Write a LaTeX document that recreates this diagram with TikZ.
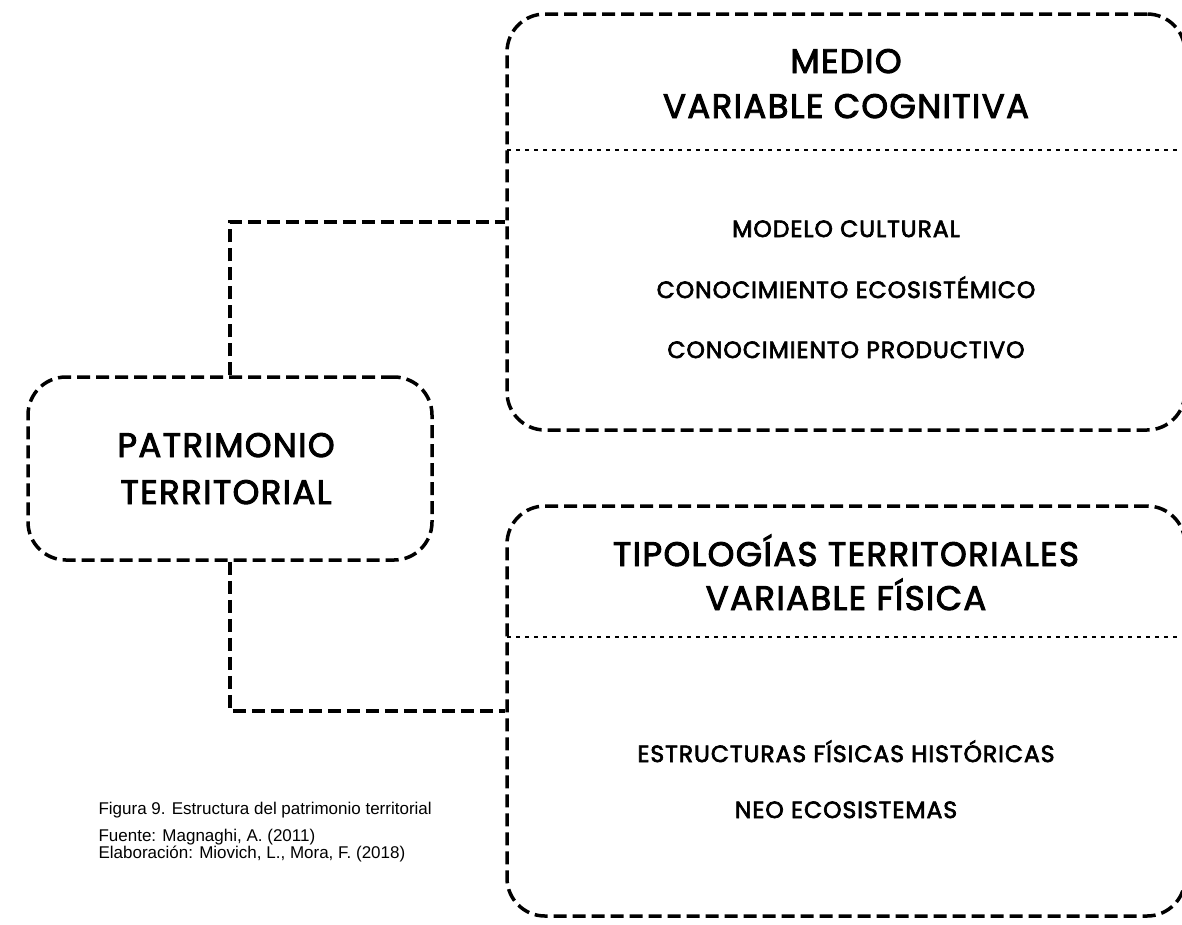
\documentclass[tikz,border=0pt]{standalone}
\usepackage{fontspec}
\setmainfont{Poppins}
\newfontfamily\pop[FakeBold=2.8, LetterSpace=4]{Poppins}
\newfontfamily\capfont{Liberation Sans}
\begin{document}
\begin{tikzpicture}[x=1pt,y=-1pt,
  dbox/.style={draw, line width=3.5pt, dash pattern=on 13pt off 6pt, rounded corners=38pt, inner sep=0pt},
  link/.style={line width=3.5pt, dash pattern=on 13pt off 6pt},
  sep/.style={line width=2pt, dash pattern=on 4pt off 5pt},
  title/.style={anchor=base, font=\pop\fontsize{34}{40}\selectfont},
  item/.style={anchor=base, font=\pop\fontsize{23.5}{28}\selectfont},
  ptext/.style={anchor=base, font=\pop\fontsize{34}{40}\selectfont},
  captext/.style={anchor=base west, font=\capfont\fontsize{17}{19}\selectfont}]
\useasboundingbox (0,0) rectangle (1182,924);
\clip (0,0) rectangle (1182,924);
\node[dbox, minimum width=404pt, minimum height=183pt] (pt) at (230,468.5) {};
\node[dbox, minimum width=678pt, minimum height=416pt] (b1) at (846,222) {};
\node[dbox, minimum width=678pt, minimum height=410pt] (b2) at (846,711) {};
\draw[link] (pt.north) |- (b1.west);
\draw[link] (pt.south) |- (b2.west);
\coordinate (s1) at (507,150);
\coordinate (s2) at (507,637);
\draw[sep] (s1) -- (s1 -| b1.east);
\draw[sep] (s2) -- (s2 -| b2.east);
\node[ptext] (p1) at (226,457) {PATRIMONIO};
\node[ptext] (p2) at (226,504) {TERRITORIAL};
\node[title] (t1) at (846,73) {MEDIO};
\node[title] (t2) at (846,118) {VARIABLE COGNITIVA};
\node[item] (i1) at (846,237) {MODELO CULTURAL};
\node[item] (i2) at (846,298) {CONOCIMIENTO ECOSISTÉMICO};
\node[item] (i3) at (846,358) {CONOCIMIENTO PRODUCTIVO};
\node[title] (t3) at (846,566) {TIPOLOGÍAS TERRITORIALES};
\node[title] (t4) at (846,610) {VARIABLE FÍSICA};
\node[item] (i4) at (846,762) {ESTRUCTURAS FÍSICAS HISTÓRICAS};
\node[item] (i5) at (846,818) {NEO ECOSISTEMAS};
\node[captext] (c1) at (95,814) {Figura 9. Estructura del patrimonio territorial};
\node[captext] (c2) at (95,841) {Fuente: Magnaghi, A. (2011)};
\node[captext] (c3) at (95,858) {Elaboración: Miovich, L., Mora, F. (2018)};
\end{tikzpicture}
\end{document}
